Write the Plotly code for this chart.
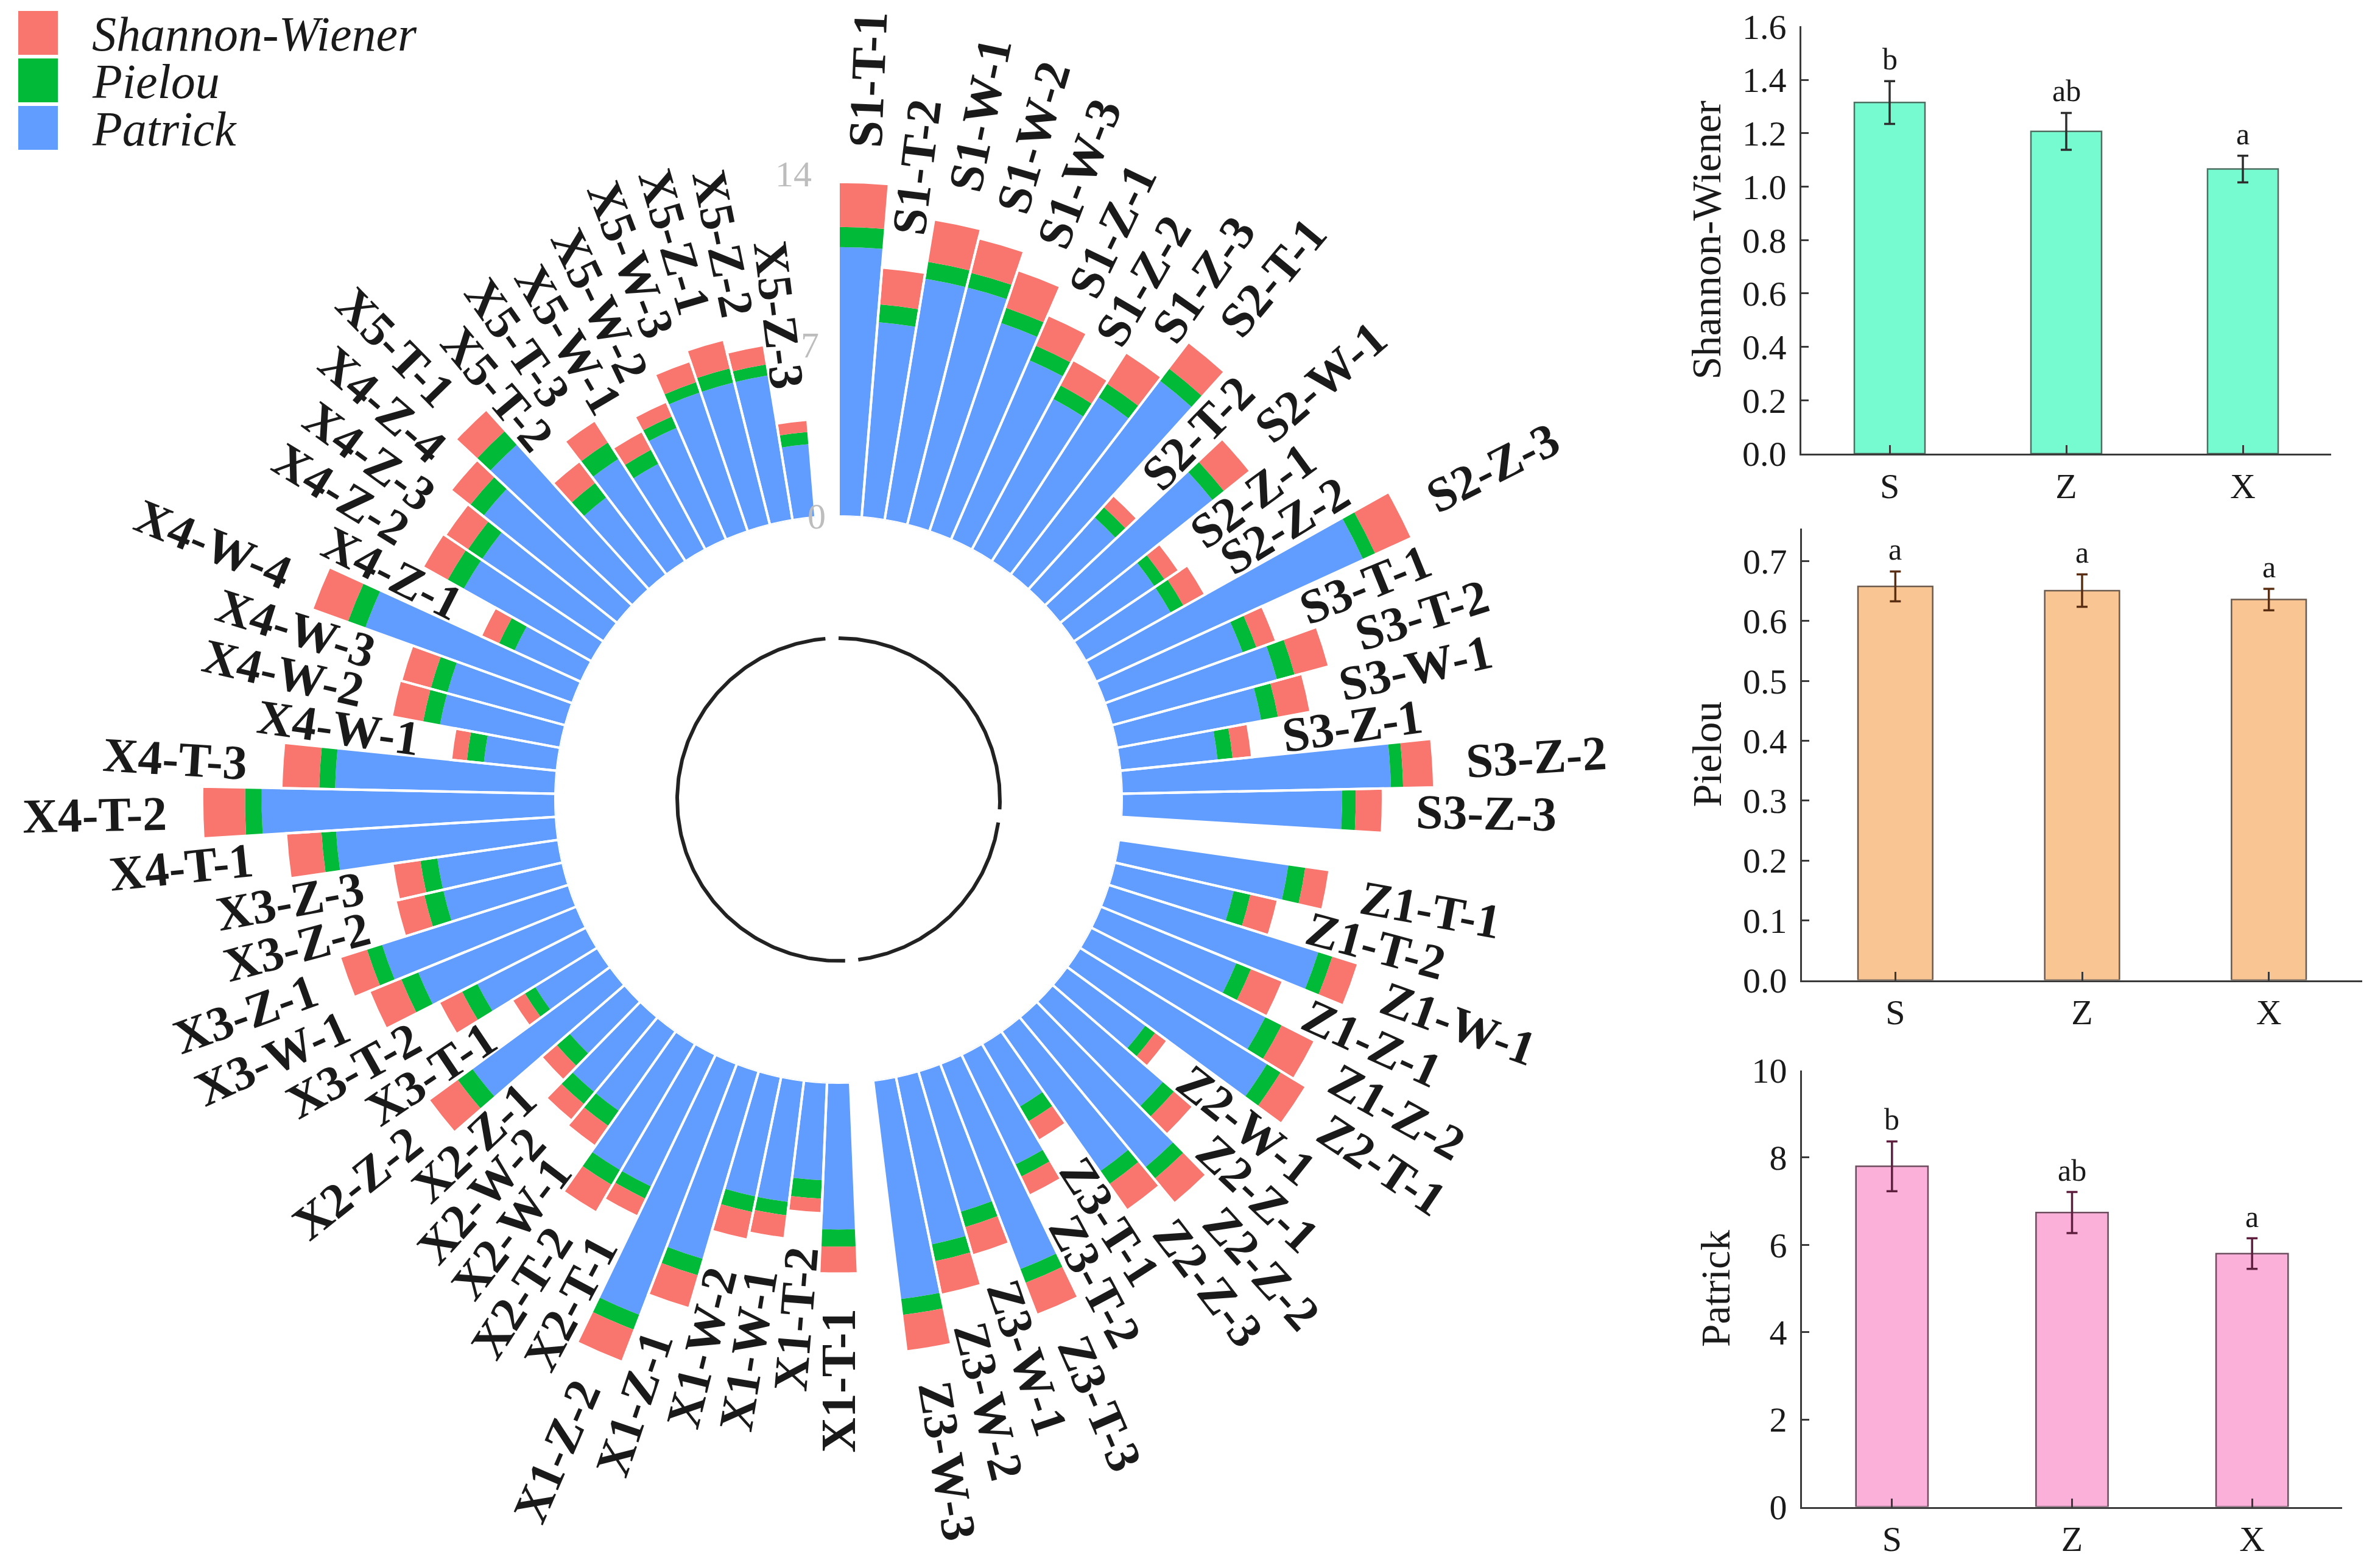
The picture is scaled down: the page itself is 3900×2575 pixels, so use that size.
import numpy as np
import plotly.graph_objects as go

# ------------------------------------------------------------------ data
samples_S = ["S1-T-1", "S1-T-2", "S1-W-1", "S1-W-2", "S1-W-3", "S1-Z-1", "S1-Z-2", "S1-Z-3",
             "S2-T-1", "S2-T-2", "S2-W-1", "S2-Z-1", "S2-Z-2", "S2-Z-3",
             "S3-T-1", "S3-T-2", "S3-W-1", "S3-Z-1", "S3-Z-2", "S3-Z-3"]
patrick_S = [11, 8, 10, 10, 9, 8, 7, 8, 10, 4, 8, 4, 4, 12, 6, 7, 6, 4, 11, 9]
pielou_S = [0.82, 0.73, 0.70, 0.62, 0.65, 0.65, 0.63, 0.65, 0.62, 0.56, 0.60, 0.50, 0.60, 0.55,
            0.60, 0.75, 0.70, 0.62, 0.50, 0.56]
shannon_S = [1.84, 1.51, 1.75, 1.45, 1.62, 1.35, 1.16, 1.51, 1.35, 0.63, 1.35, 0.70, 1.00, 1.63,
             0.85, 1.45, 1.35, 0.80, 1.27, 1.11]

samples_Z = ["Z1-T-1", "Z1-T-2", "Z1-W-1", "Z1-Z-1", "Z1-Z-2",
             "Z2-T-1", "Z2-W-1", "Z2-Z-1", "Z2-Z-2", "Z2-Z-3",
             "Z3-T-1", "Z3-T-2", "Z3-T-3", "Z3-W-1", "Z3-W-2", "Z3-W-3"]
patrick_Z = [7, 5, 9, 6, 8, 9, 4, 6, 8, 7, 3, 5, 9, 6, 7, 9]
pielou_Z = [0.70, 0.70, 0.60, 0.65, 0.75, 0.65, 0.50, 0.60, 0.60, 0.65, 0.70, 0.55, 0.60, 0.65,
            0.70, 0.65]
shannon_Z = [1.00, 1.15, 1.10, 1.40, 1.50, 1.20, 0.60, 1.00, 1.30, 1.30, 0.90, 0.85, 1.40, 1.20,
             1.40, 1.50]

samples_X = ["X1-T-1", "X1-T-2", "X1-W-1", "X1-W-2", "X1-Z-1", "X1-Z-2",
             "X2-T-1", "X2-T-2", "X2-W-1", "X2-W-2", "X2-Z-1", "X2-Z-2",
             "X3-T-1", "X3-T-2", "X3-W-1", "X3-Z-1", "X3-Z-2", "X3-Z-3",
             "X4-T-1", "X4-T-2", "X4-T-3", "X4-W-1", "X4-W-2", "X4-W-3", "X4-W-4",
             "X4-Z-1", "X4-Z-2", "X4-Z-3", "X4-Z-4",
             "X5-T-1", "X5-T-2", "X5-T-3", "X5-W-1", "X5-W-2", "X5-W-3",
             "X5-Z-1", "X5-Z-2", "X5-Z-3"]
patrick_X = [6, 4, 5, 5, 8, 11, 6, 6, 4, 4, 3, 7, 3, 5, 7, 8, 5, 5,
             9, 12, 9, 3, 5, 5, 9, 3, 6, 6, 7, 8, 4, 5, 4, 5, 6, 6, 6, 3]
pielou_X = [0.70, 0.75, 0.55, 0.65, 0.70, 0.65, 0.55, 0.70, 0.75, 0.65, 0.70, 0.75,
            0.50, 0.70, 0.75, 0.65, 0.80, 0.70, 0.60, 0.68, 0.65, 0.70, 0.70, 0.70, 0.75,
            0.70, 0.75, 0.70, 0.70, 0.74, 0.75, 0.80, 0.65, 0.50, 0.45, 0.60, 0.45, 0.50]
shannon_X = [1.10, 0.60, 0.95, 1.15, 1.40, 1.40, 0.80, 1.30, 1.00, 0.85, 0.80, 1.45,
             0.60, 1.05, 1.40, 1.15, 1.20, 1.15, 1.45, 1.75, 1.55, 0.65, 1.30, 1.25, 1.55,
             0.80, 1.15, 1.10, 1.00, 1.17, 1.10, 1.05, 0.85, 0.65, 0.90, 1.20, 0.80, 0.50]

radial_ticks = [0, 7, 14]

group_names = ["S", "Z", "X"]
sw_mean = [1.315, 1.207, 1.066]
sw_err = [0.080, 0.069, 0.050]
sw_letters = ["b", "ab", "a"]
pl_mean = [0.658, 0.651, 0.636]
pl_err = [0.025, 0.027, 0.018]
pl_letters = ["a", "a", "a"]
pa_mean = [7.80, 6.74, 5.80]
pa_err = [0.57, 0.47, 0.35]
pa_letters = ["b", "ab", "a"]

# ------------------------------------------------------------------ layout constants
PAGE_W, PAGE_H = 3900, 2575
OFF = 8                               # default body margin of the html page
FW, FH = PAGE_W - OFF, PAGE_H - OFF   # figure size


def fx(px):   # page px -> paper fraction (x)
    return (px - OFF) / FW


def fy(py):   # page px -> paper fraction (y)
    return 1 - (py - OFF) / FH


CX, CY = 1377.0 - OFF, 1313.0 - OFF   # polar centre in figure px
R0 = 465.0                            # hole radius in px
PXU = 40.2                            # px per radial unit
RMAX = 15.0
ROUT = R0 + RMAX * PXU
HOLE = R0 / ROUT
ARC_R = 265.0
LABEL_GAP = 54.0
LABEL_SIZE = 80
FONT = "Liberation Serif"
RED, GREEN, BLUE = "#F8766D", "#00BA38", "#619CFF"

# Times-Bold advance widths (1/1000 em) for label centring
BW = {"S": 556, "X": 722, "Z": 667, "T": 667, "W": 1000, "-": 333}


def text_w(s, size):
    return sum(BW.get(c, 500) for c in s) * size / 1000.0


# ------------------------------------------------------------------ assemble polar data
groups = [(samples_S, patrick_S, pielou_S, shannon_S),
          (samples_Z, patrick_Z, pielou_Z, shannon_Z),
          (samples_X, patrick_X, pielou_X, shannon_X)]
names, pat, pie, sha, slots, ranges = [], [], [], [], [], []
slot = 0
for smp, pa, pi, sh in groups:
    start = slot
    for k in range(len(smp)):
        names.append(smp[k]); pat.append(pa[k]); pie.append(pi[k]); sha.append(sh[k])
        slots.append(slot)
        slot += 1
    ranges.append((start, slot))
    slot += 1
NSLOT = slot
DT = 360.0 / NSLOT
theta = [(s + 0.5) * DT for s in slots]
total = [a + b + c for a, b, c in zip(pat, pie, sha)]

pdx = [(CX - ROUT) / FW, (CX + ROUT) / FW]
pdy = [1 - (CY + ROUT) / FH, 1 - (CY - ROUT) / FH]

fig = go.Figure()
for vals, col, nm in [(pat, BLUE, "Patrick"), (pie, GREEN, "Pielou"), (sha, RED, "Shannon-Wiener")]:
    fig.add_trace(go.Barpolar(r=vals, theta=theta, width=DT, name=nm, subplot="polar",
                              marker=dict(color=col, line=dict(width=0))))
# white separators between neighbouring bars
fig.add_trace(go.Barpolar(r=total, theta=theta, width=DT, subplot="polar2", showlegend=False,
                          marker=dict(color="rgba(0,0,0,0)", line=dict(color="white", width=4))))

# overlay cartesian axis in px units centred on the polar centre
OX1 = 0.75
x4_range = [-CX, OX1 * FW - CX]
y4_range = [-(FH - CY), CY]

for a, b in ranges:
    t = np.radians(np.linspace(a * DT, b * DT, 240))
    fig.add_trace(go.Scatter(x=ARC_R * np.sin(t), y=ARC_R * np.cos(t), mode="lines",
                             line=dict(color="#222222", width=6), xaxis="x4", yaxis="y4",
                             hoverinfo="skip", showlegend=False))

annotations = []
for nm, th, tot in zip(names, theta, total):
    rho = R0 + tot * PXU + LABEL_GAP + text_w(nm, LABEL_SIZE) / 2
    tr = np.radians(th)
    ang = th - 90 if th < 180 else th - 270
    annotations.append(dict(x=rho * np.sin(tr), y=rho * np.cos(tr), xref="x4", yref="y4",
                            text="<b>" + nm + "</b>", showarrow=False, textangle=ang,
                            xanchor="center", yanchor="middle",
                            font=dict(family=FONT, size=LABEL_SIZE, color="#1a1a1a")))
gap_th = np.radians((NSLOT - 0.5) * DT)
for v in radial_ticks:
    rho = R0 + v * PXU
    annotations.append(dict(x=rho * np.sin(gap_th), y=rho * np.cos(gap_th), xref="x4", yref="y4",
                            text=str(v), showarrow=False, xanchor="right", yanchor="middle",
                            font=dict(family=FONT, size=60, color="#BDBDBD")))

# ------------------------------------------------------------------ right-hand bar charts
AX = "#3a3a3a"
panels = [
    dict(mean=sw_mean, err=sw_err, let=sw_letters, col="#76FAD0", edge="#4f6f63", ecol="#2e2e2e",
         title="Shannon-Wiener", xd=[fx(2958), fx(3828)], yd=[fy(745), fy(43.4)],
         yr=[0, 1.6], dtick=0.2, fmt=".1f"),
    dict(mean=pl_mean, err=pl_err, let=pl_letters, col="#F9C592", edge="#6b5a4e", ecol="#5a2e12",
         title="Pielou", xd=[fx(2959), fx(3879)], yd=[fy(1609.5), fy(867.7)],
         yr=[0, 0.755], dtick=0.1, fmt=".1f"),
    dict(mean=pa_mean, err=pa_err, let=pa_letters, col="#FBB0DA", edge="#6b4d5e", ecol="#5e1f3f",
         title="Patrick", xd=[fx(2959), fx(3846)], yd=[fy(2474.6), fy(1757.5)],
         yr=[0, 10], dtick=2, fmt="d"),
]
axes_layout = {}
for i, p in enumerate(panels, start=1):
    xa, ya = ("x" if i == 1 else f"x{i}"), ("y" if i == 1 else f"y{i}")
    fig.add_trace(go.Bar(x=group_names, y=p["mean"], width=0.4, xaxis=xa, yaxis=ya, showlegend=False,
                         marker=dict(color=p["col"], line=dict(color=p["edge"], width=2.5)),
                         error_y=dict(type="data", array=p["err"], color=p["ecol"], thickness=3.5,
                                      width=9)))
    for g, m, e, l in zip(group_names, p["mean"], p["err"], p["let"]):
        annotations.append(dict(x=g, y=m + e, xref=xa, yref=ya, text=l, showarrow=False,
                                yanchor="bottom", yshift=6,
                                font=dict(family=FONT, size=50, color="#1a1a1a")))
    axes_layout["xaxis" if i == 1 else f"xaxis{i}"] = dict(
        domain=p["xd"], anchor=ya, range=[-0.5, 2.5], showline=True, linecolor=AX, linewidth=3,
        ticks="inside", ticklen=14, tickwidth=3, tickcolor=AX, showgrid=False, zeroline=False,
        automargin=False,
        tickfont=dict(family=FONT, size=58, color="#1a1a1a"), ticklabelstandoff=0, fixedrange=True)
    axes_layout["yaxis" if i == 1 else f"yaxis{i}"] = dict(
        domain=p["yd"], anchor=xa, range=p["yr"], dtick=p["dtick"], tick0=0, tickformat=p["fmt"],
        showline=True, linecolor=AX, linewidth=3, ticks="inside", ticklen=12, tickwidth=3,
        tickcolor=AX, showgrid=False, zeroline=False, ticklabelstandoff=10, fixedrange=True,
        automargin=False,
        tickfont=dict(family=FONT, size=58, color="#1a1a1a"),
        title=dict(text=p["title"], font=dict(family=FONT, size=68, color="#1a1a1a"), standoff=14))

axes_layout["xaxis4"] = dict(domain=[0, OX1], range=x4_range, visible=False, fixedrange=True,
                             automargin=False, anchor="y4")
axes_layout["yaxis4"] = dict(domain=[0, 1], range=y4_range, visible=False, fixedrange=True,
                             automargin=False, anchor="x4")

# ------------------------------------------------------------------ manual legend
shapes = []
leg = [("Shannon-Wiener", RED), ("Pielou", GREEN), ("Patrick", BLUE)]
for k, (txt, col) in enumerate(leg):
    top = 18 + 78 * k
    shapes.append(dict(type="rect", xref="paper", yref="paper", x0=fx(30), x1=fx(95),
                       y0=fy(top + 72), y1=fy(top), fillcolor=col, line=dict(width=0)))
    annotations.append(dict(x=fx(149), y=fy(top + 38), xref="paper", yref="paper",
                            text="<i>" + txt + "</i>", showarrow=False, xanchor="left",
                            yanchor="middle", height=74, valign="middle",
                            font=dict(family=FONT, size=80, color="#1a1a1a")))

polar_common = dict(
    domain=dict(x=pdx, y=pdy), hole=HOLE, bgcolor="rgba(0,0,0,0)",
    radialaxis=dict(range=[0, RMAX], visible=False),
    angularaxis=dict(direction="clockwise", rotation=90, visible=False, thetaunit="degrees"),
)

fig.update_layout(
    width=FW, height=FH, margin=dict(l=0, r=0, t=0, b=0, autoexpand=False),
    paper_bgcolor="white", plot_bgcolor="white", showlegend=False,
    font=dict(family=FONT, color="#1a1a1a"),
    polar=dict(**polar_common, barmode="stack"),
    polar2=dict(**polar_common, barmode="overlay"),
    annotations=annotations, shapes=shapes, **axes_layout,
)

fig.write_html("out.html")
